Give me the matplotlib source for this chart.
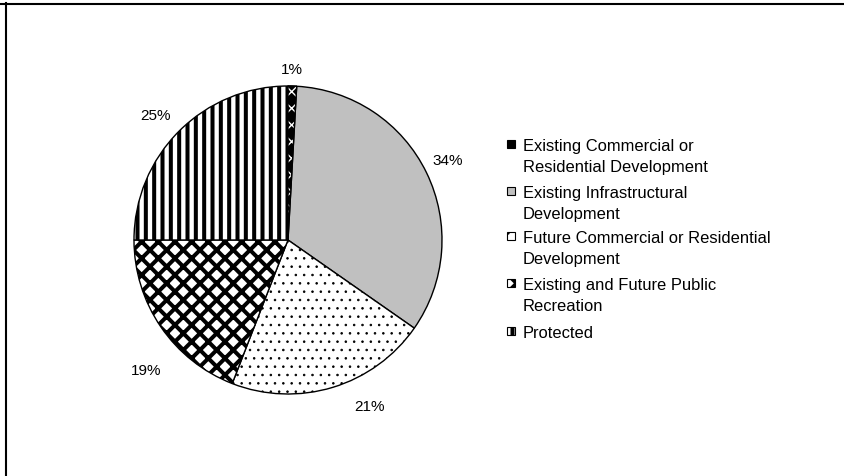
import matplotlib
matplotlib.use("Agg")
import matplotlib.pyplot as plt
import numpy as np
from matplotlib.patches import Rectangle, Wedge
from matplotlib.lines import Line2D

plt.rcParams['font.family'] = ['Liberation Sans', 'DejaVu Sans']

# chart data, clockwise from 12 o'clock
categories = [
    "Existing Commercial or\nResidential Development",
    "Existing Infrastructural\nDevelopment",
    "Future Commercial or Residential\nDevelopment",
    "Existing and Future Public\nRecreation",
    "Protected",
]
shares = [0.9, 33.8, 21.2, 19.1, 25.0]
pct_labels = ["1%", "34%", "21%", "19%", "25%"]

# fill styles (black & white office-style patterns)
face_colors = ["black", "#c0c0c0", "white", "white", "white"]
hatches = [None, None, "..", "xx", "||"]
hatch_widths = [1.0, 1.0, 0.6, 2.9, 2.9]

# label placement tweaks relative to the slice middle
label_shift = [0.3, 0.7, 9.2, 8.0, 1.7]
label_radius = [1.11, 1.16, 1.20, 1.25, 1.18]

W, H = 845, 477
FS_PCT = 11.0
FS_LEG = 11.9


def fx(x):
    return x / W


def fy(y):
    return 1 - y / H


fig = plt.figure(figsize=(W / 100, H / 100), dpi=100)

# pie centred at (288, 241) px with radius 154 px
R = 154.0
half = 200.0
ax = fig.add_axes([fx(288 - half), fy(241 + half), 2 * half / W, 2 * half / H])

wedges, _ = ax.pie(shares, startangle=90, counterclock=False,
                   colors=face_colors, hatch=hatches,
                   wedgeprops=dict(edgecolor='black', linewidth=1.0))
ax.set_xlim(-half / R, half / R)
ax.set_ylim(-half / R, half / R)
ax.set_aspect('equal')
ax.axis('off')

for w, lw in zip(wedges, hatch_widths):
    if hasattr(w, 'set_hatch_linewidth'):
        w.set_hatch_linewidth(lw)

# white cross marks on the tiny black slice, then its outline again
w0 = wedges[0]
mark = Wedge(w0.center, w0.r, w0.theta1, w0.theta2, facecolor='none',
             edgecolor='white', hatch='xx', linewidth=0, zorder=w0.get_zorder() + 0.1)
ax.add_patch(mark)
ax.add_patch(Wedge(w0.center, w0.r, w0.theta1, w0.theta2, fill=False,
                   edgecolor='black', linewidth=1.0, zorder=w0.get_zorder() + 0.2))

# percentage labels outside the pie
for w, txt, sh, rr in zip(wedges, pct_labels, label_shift, label_radius):
    ang = np.deg2rad((w.theta1 + w.theta2) / 2 + sh)
    ax.text(rr * np.cos(ang), rr * np.sin(ang), txt, ha='center', va='center',
            fontsize=FS_PCT, color='black')

# legend drawn by hand so the swatch sits on the first text line
leg_y = [145, 192, 237, 284, 332]
line_pitch = 21
for i, (cat, y) in enumerate(zip(categories, leg_y)):
    sw = Rectangle((fx(507), fy(y + 4)), 8 / W, 8 / H, transform=fig.transFigure,
                   facecolor=face_colors[i], edgecolor='black', linewidth=0.8,
                   hatch=hatches[i])
    if hasattr(sw, 'set_hatch_linewidth'):
        sw.set_hatch_linewidth(hatch_widths[i])
    fig.add_artist(sw)
    for k, line in enumerate(cat.split("\n")):
        fig.text(fx(523), fy(y + k * line_pitch), line, ha='left', va='center_baseline',
                 fontsize=FS_LEG, color='black', transform=fig.transFigure)

# chart frame (top and left edges only are visible)
fig.add_artist(Line2D([0, 1], [fy(4.5), fy(4.5)], color='black', linewidth=1.5,
                      transform=fig.transFigure))
fig.add_artist(Line2D([fx(6.5), fx(6.5)], [0, fy(4)], color='black', linewidth=1.5,
                      transform=fig.transFigure))

fig.savefig('out.png', dpi=100)
plt.close(fig)
